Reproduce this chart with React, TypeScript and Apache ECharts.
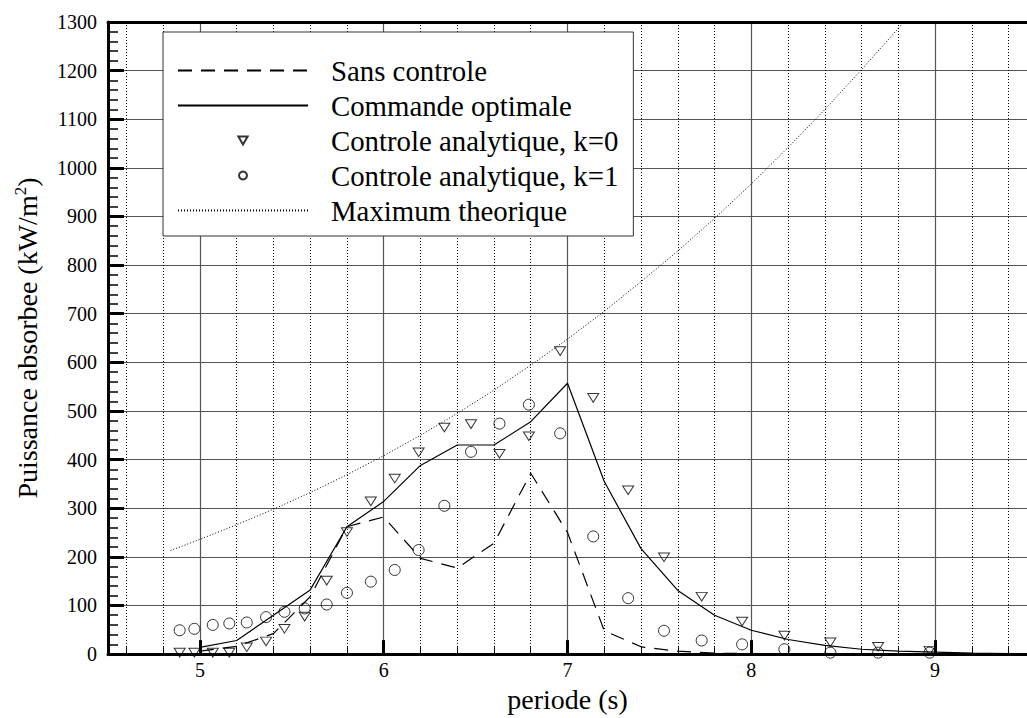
import React, { useEffect, useRef } from "react";
import * as echarts from "echarts";

const FONT = "Liberation Serif";

// Tick values
const xMajorTicks = [5, 6, 7, 8, 9];
const xMinorTicks = [4.6, 4.8, 5.2, 5.4, 5.6, 5.8, 6.2, 6.4, 6.6, 6.8, 7.2, 7.4, 7.6, 7.8, 8.2, 8.4, 8.6, 8.8, 9.2, 9.4];

// Line series (period grid at 0.2 s)
const periodLine = [5.0, 5.2, 5.4, 5.6, 5.8, 6.0, 6.2, 6.4, 6.6, 6.8, 7.0, 7.2, 7.4, 7.6, 7.8, 8.0, 8.2, 8.4, 8.6, 8.8, 9.0, 9.2, 9.4];
const sansControle = [6, 16, 42, 118, 262, 282, 197, 177, 228, 372, 250, 48, 15, 6, 2, 1, 0, 0, 0, 0, 0, 0, 0];
const commandeOptimale = [14, 28, 80, 132, 262, 314, 388, 430, 430, 478, 557, 355, 217, 131, 80, 49, 30, 18, 10, 6, 4, 2, 1];

// Analytic control points
const periodPts = [4.89, 4.97, 5.07, 5.16, 5.255, 5.36, 5.46, 5.57, 5.69, 5.8, 5.93, 6.06, 6.19, 6.33, 6.475, 6.63, 6.79, 6.96, 7.14, 7.33, 7.525, 7.73, 7.95, 8.18, 8.43, 8.69, 8.97];
const controleK0 = [3, 3, 3, 3, 14, 26, 52, 77, 151, 251, 314, 361, 415, 466, 473, 412, 448, 623, 527, 337, 199, 118, 67, 38, 24, 15, 7];
const controleK1 = [49, 52, 60, 63, 65, 76, 87, 94, 102, 126, 149, 173, 214, 305, 416, 474, 513, 454, 242, 115, 48, 28, 20, 10, 3, 3, 3];

// Theoretical maximum
const periodMax = [4.84, 5.0, 5.2, 5.4, 5.6, 5.8, 6.0, 6.2, 6.4, 6.6, 6.8, 7.0, 7.2, 7.4, 7.6, 7.8, 8.0, 8.2, 8.4, 8.6, 8.8, 8.84];
const maxTheorique = [213, 236, 266, 298, 332, 369, 408, 450, 495, 543, 594, 648, 705, 766, 829, 896, 967, 1042, 1120, 1202, 1287, 1305];

const zip = (xs: number[], ys: number[]) => xs.map((x, i) => [x, ys[i]]);

const DOWN_TRIANGLE = "path://M0,0 L10,0 L5,8.66 Z";

export default function App() {
  const ref = useRef<HTMLDivElement>(null);
  useEffect(() => {
    if (!ref.current) return;
    const chart = echarts.init(ref.current, null, { renderer: "svg" });
    const baseX = {
      type: "value",
      min: 4.5,
      max: 9.5,
      gridIndex: 0,
    };
    const lineLegendHide = { color: "rgba(0,0,0,0)" };
    chart.setOption({
      animation: false,
      backgroundColor: "#fff",
      textStyle: { fontFamily: FONT, color: "#000" },
      grid: { left: 108, right: -7, top: 22, bottom: 55, containLabel: false },
      legend: {
        orient: "vertical",
        left: 163,
        top: 32,
        padding: [24, 15, 11, 14],
        itemGap: 6,
        itemWidth: 130,
        itemHeight: 8,
        symbolKeepAspect: true,
        borderColor: "#333",
        borderWidth: 1,
        backgroundColor: "#fff",
        textStyle: { fontSize: 28.8, fontFamily: FONT, color: "#000", lineHeight: 29, padding: [0, 0, 0, 18] },
        data: ["Sans controle", "Commande optimale", "Controle analytique, k=0", "Controle analytique, k=1", "Maximum theorique"],
      },
      xAxis: [
        {
          ...baseX,
          position: "bottom",
          name: "periode (s)",
          nameLocation: "middle",
          nameGap: 22,
          nameTextStyle: { fontSize: 28, fontFamily: FONT, color: "#000" },
          axisLine: { show: true, onZero: false, lineStyle: { color: "#000", width: 3 } },
          axisTick: { show: true, inside: true, length: 14, lineStyle: { color: "#000", width: 3 }, customValues: xMajorTicks },
          axisLabel: {
            show: true,
            margin: 6,
            fontSize: 20,
            fontFamily: FONT,
            color: "#000",
            customValues: xMajorTicks,
            formatter: (v: number) => (Math.abs(v - Math.round(v)) < 1e-6 ? String(Math.round(v)) : ""),
          },
          splitLine: { show: true, lineStyle: { color: "#555", width: 1.2, type: "solid" } },
          minorTick: { show: false },
        },
        {
          ...baseX,
          position: "bottom",
          axisLine: { show: false },
          axisTick: { show: true, inside: true, length: 7, lineStyle: { color: "#000", width: 1 }, customValues: xMinorTicks },
          axisLabel: { show: false },
          splitLine: { show: true, lineStyle: { color: "#000", width: 1, type: [1, 2] } },
        },
        {
          ...baseX,
          position: "top",
          axisLine: { show: true, onZero: false, lineStyle: { color: "#000", width: 3 } },
          axisTick: { show: false },
          axisLabel: { show: false },
          splitLine: { show: false },
        },
      ],
      yAxis: {
        type: "value",
        min: 0,
        max: 1300,
        interval: 100,
        name: "{t|Puissance absorbee (kW/m}{s|2}{t|)}",
        nameLocation: "middle",
        nameGap: 66,
        nameTextStyle: {
          color: "#000",
          rich: {
            t: { fontSize: 28, fontFamily: FONT, color: "#000", lineHeight: 30 },
            s: { fontSize: 17, fontFamily: FONT, color: "#000", verticalAlign: "top", lineHeight: 30 },
          },
        },
        axisLine: { show: true, onZero: false, lineStyle: { color: "#000", width: 3 } },
        axisTick: { show: true, inside: true, length: 16, lineStyle: { color: "#000", width: 3 } },
        minorTick: { show: true, splitNumber: 5, length: 10, lineStyle: { color: "#000", width: 1.5 } },
        axisLabel: { margin: 11, fontSize: 20, fontFamily: FONT, color: "#000", formatter: (v: number) => String(v) },
        splitLine: { show: true, lineStyle: { color: "#555", width: 1.2 } },
        minorSplitLine: { show: false },
      },
      series: [
        {
          name: "Sans controle",
          type: "line",
          data: zip(periodLine, sansControle),
          symbol: "none",
          lineStyle: { color: "#000", width: 1.2, type: [14, 9] },
          itemStyle: lineLegendHide,
          z: 3,
        },
        {
          name: "Commande optimale",
          type: "line",
          data: zip(periodLine, commandeOptimale),
          symbol: "none",
          lineStyle: { color: "#000", width: 1.2, type: "solid" },
          itemStyle: lineLegendHide,
          z: 3,
        },
        {
          name: "Controle analytique, k=0",
          type: "scatter",
          data: zip(periodPts, controleK0),
          symbol: DOWN_TRIANGLE,
          symbolKeepAspect: true,
          symbolSize: [11, 10],
          itemStyle: { color: "rgba(0,0,0,0)", borderColor: "#000", borderWidth: 1 },
          z: 4,
        },
        {
          name: "Controle analytique, k=1",
          type: "scatter",
          data: zip(periodPts, controleK1),
          symbol: "circle",
          symbolSize: 11,
          itemStyle: { color: "rgba(0,0,0,0)", borderColor: "#000", borderWidth: 1 },
          z: 4,
        },
        {
          name: "Maximum theorique",
          type: "line",
          data: zip(periodMax, maxTheorique),
          symbol: "none",
          lineStyle: { color: "#000", width: 1, type: [1, 2] },
          itemStyle: lineLegendHide,
          z: 3,
        },
      ],
    });
    return () => chart.dispose();
  }, []);
  return <div ref={ref} style={{ position: "absolute", left: 0, top: 0, width: 1027, height: 718 }} />;
}
